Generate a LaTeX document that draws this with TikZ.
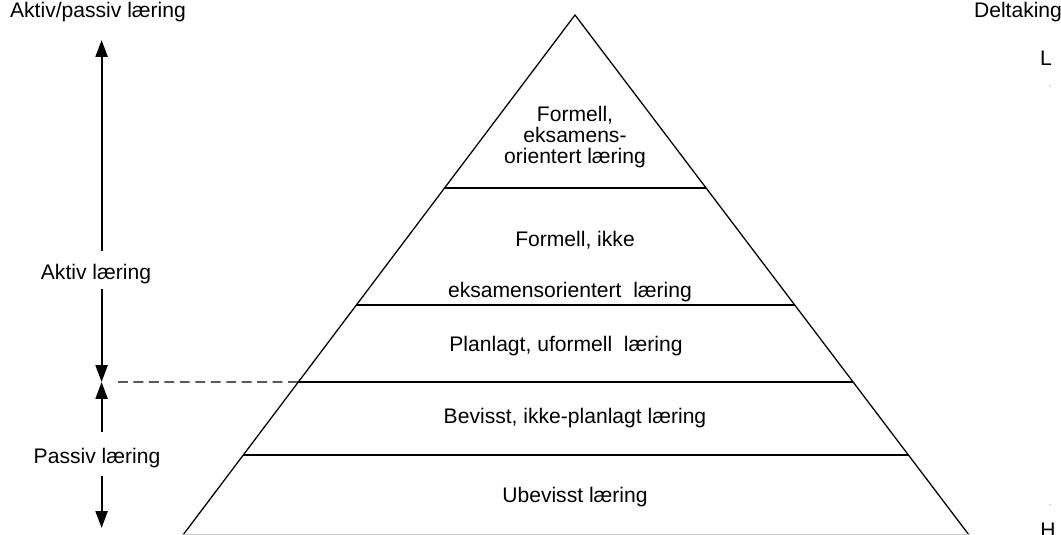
\documentclass[tikz,border=0pt]{standalone}
\usepackage{fontspec}
\setmainfont{Liberation Sans}
\usetikzlibrary{calc,arrows.meta}

\begin{document}
\begin{tikzpicture}[
  tekst/.style={font=\fontsize{15}{15}\selectfont},
  lag/.style={tekst,align=center},
  pil/.style={line width=1.5pt,-{Triangle[length=12pt,width=8.5pt]}},
  kant/.style={line width=0.9pt}
]
\useasboundingbox (0,0) rectangle (26.525,13.375);
% pyramiden
\coordinate (spiss) at (14.375,13);
\coordinate (venstre) at (4.575,0);
\coordinate (hoyre) at (24.225,0);
\draw[kant] (venstre)--(spiss)--(hoyre);
\draw[kant,gray!40] (venstre)--(hoyre);
\foreach \t in {0.15385,0.29423,0.44231,0.66731}
  \draw[kant] ($(venstre)!\t!(spiss)$) -- ($(hoyre)!\t!(spiss)$);
\coordinate (skille) at ($(venstre)!0.29423!(spiss)$);
% tekst i lagene
\node[lag] (formell) at (14.375,9.95) {Formell,\\eksamens-\\orientert læring};
\node[lag] (ikke) at (14.375,7.375) {Formell, ikke};
\node[lag] (eksamen) at (14.25,6.075) {eksamensorientert\ \ læring};
\node[lag] (planlagt) at (14.15,4.725) {Planlagt, uformell\ \ læring};
\node[lag] (bevisst) at (14.375,2.925) {Bevisst, ikke-planlagt læring};
\node[lag] (ubevisst) at (14.375,0.95) {Ubevisst læring};
% venstre side
\node[tekst] (aktivpassiv) at (2.45,13.075) {Aktiv/passiv læring};
\node[tekst] (aktiv) at (2.4,6.531) {Aktiv læring};
\node[tekst] (passiv) at (2.425,1.925) {Passiv læring};
\coordinate (pilTopp) at (2.54,12.375);
\coordinate (pilMidt) at (2.54,3.825);
\coordinate (pilBunn) at (2.54,0.175);
\coordinate (stiplet) at (2.95,3.825);
\draw[pil,shorten <=0.2cm] (pilTopp |- aktiv.north) -- (pilTopp);
\draw[pil] (pilMidt |- aktiv.south) -- (pilMidt);
\draw[pil,shorten <=0.27cm] (pilMidt |- passiv.north) -- (pilMidt);
\draw[pil,shorten <=0.07cm] (pilBunn |- passiv.south) -- (pilBunn);
\draw[line width=0.9pt,dash pattern=on 7pt off 4pt] (stiplet) -- (skille);
% høyre side
\node[tekst] (deltaking) at (25.45,13.075) {Deltaking};
\node[tekst] (lav) at (26.15,11.925) {L};
\node[tekst] (hoy) at (26.2,0.12) {H};
\fill[gray] (26.25,11.225) circle (0.4pt);
\fill[gray] (26.25,0.75) circle (0.4pt);
\end{tikzpicture}
\end{document}
